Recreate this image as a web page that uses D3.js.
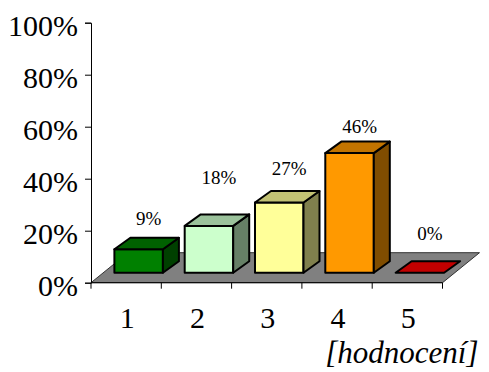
<!DOCTYPE html>
<html>
<head>
<meta charset="utf-8">
<script src="https://cdn.jsdelivr.net/npm/d3@7"></script>
<style>
  html, body { margin: 0; padding: 0; background: #fff; }
  svg { display: block; }
  text { font-family: "Liberation Serif", "Times New Roman", serif; fill: #000; }
</style>
</head>
<body>
<svg id="chart" width="489" height="372"></svg>
<script>
// Rating categories and the share of answers for each
const categories = ["1", "2", "3", "4", "5"];
const shares = [9, 18, 27, 46, 0];
const barColors = ["#008000", "#CCFFCC", "#FFFF99", "#FF9900", "#FF0000"];
const yTicks = [0, 20, 40, 60, 80, 100];
const axisTitle = "[hodnocení]";

const svg = d3.select("#chart");
const W = 489, H = 372;
svg.append("rect").attr("width", W).attr("height", H).attr("fill", "#fff");

// Plot frame (front plane of the 3D box)
const plotLeft = 91, plotRight = 442.5, plotBase = 282.7, plotTop = 22.7;

const x = d3.scaleBand().domain(categories).range([plotLeft, plotRight])
  .paddingInner(0.31).paddingOuter(0.155);
const y = d3.scaleLinear().domain([0, 100]).range([plotBase, plotTop]);

// Oblique depth offsets
const floorDepth = { dx: 37, dy: 30 };
const barFront = { dx: 12.5, dy: 10 };
const barDepth = { dx: 16, dy: 11.5 };

const shade = (c, k) => {
  const r = d3.rgb(c);
  return d3.rgb(r.r * k, r.g * k, r.b * k).formatHex();
};
const poly = pts => "M" + pts.map(p => p.join(",")).join("L") + "Z";

// Floor
svg.append("path")
  .attr("d", poly([[plotLeft, plotBase], [plotRight, plotBase],
    [plotRight + floorDepth.dx, plotBase - floorDepth.dy],
    [plotLeft + floorDepth.dx, plotBase - floorDepth.dy]]))
  .attr("fill", "#808080")
  .attr("stroke", "#333")
  .attr("stroke-width", 1);

// Bars
const bars = svg.append("g").selectAll("g")
  .data(categories.map((c, i) => ({ c, v: shares[i], color: barColors[i], i })))
  .join("g");

bars.each(function (d) {
  const g = d3.select(this);
  const x0 = x(d.c) + barFront.dx;
  const x1 = x0 + x.bandwidth();
  const yb = plotBase - barFront.dy;
  const yt = y(d.v) - barFront.dy;
  const ddx = barDepth.dx, ddy = barDepth.dy;
  const face = (pts, fill) => g.append("path").attr("d", poly(pts)).attr("fill", fill)
    .attr("stroke", "#000").attr("stroke-width", 2).attr("stroke-linejoin", "round");
  if (d.v > 0) {
    face([[x0, yb], [x1, yb], [x1, yt], [x0, yt]], d.color);
    face([[x1, yt], [x1 + ddx, yt - ddy], [x1 + ddx, yb - ddy], [x1, yb]], shade(d.color, 0.5));
  }
  face([[x0, yt], [x1, yt], [x1 + ddx, yt - ddy], [x0 + ddx, yt - ddy]], shade(d.color, 0.76));
});

// Value labels above each bar
const labelLift = [24, 41.5, 27.5, 20.5, 32.5];
svg.append("g").selectAll("text")
  .data(categories.map((c, i) => ({ c, v: shares[i], i })))
  .join("text")
  .attr("x", d => x(d.c) + barFront.dx + x.bandwidth() / 2 + barDepth.dx / 2 + 2)
  .attr("y", d => y(d.v) - barFront.dy - labelLift[d.i])
  .attr("text-anchor", "middle")
  .attr("font-size", 19)
  .text(d => d.v + "%");

// Value axis
const yAxis = d3.axisLeft(y).tickValues(yTicks).tickSize(6).tickPadding(7)
  .tickFormat(d => d + "%");
const ya = svg.append("g").attr("transform", `translate(${plotLeft},0)`).call(yAxis);
ya.attr("font-family", null);
ya.select(".domain").attr("stroke", "#000").attr("stroke-width", 1);
ya.selectAll(".tick line").attr("stroke", "#000");
ya.selectAll(".tick text")
  .attr("font-size", 30).attr("fill", "#000")
  .attr("dy", "0.41em");

// Category axis along the front edge of the floor
const xEdge = d3.scaleLinear().domain([0, categories.length]).range([plotLeft, plotRight]);
svg.append("line").attr("x1", plotLeft).attr("x2", plotRight).attr("y1", plotBase).attr("y2", plotBase)
  .attr("stroke", "#000").attr("stroke-width", 1);
svg.append("g").selectAll("line")
  .data(d3.range(categories.length + 1))
  .join("line")
  .attr("x1", d => xEdge(d)).attr("x2", d => xEdge(d))
  .attr("y1", plotBase).attr("y2", plotBase + 6)
  .attr("stroke", "#000");
svg.append("g").selectAll("text")
  .data(categories)
  .join("text")
  .attr("x", d => x(d) + x.bandwidth() / 2 + 1)
  .attr("y", 328)
  .attr("text-anchor", "middle")
  .attr("font-size", 30)
  .text(d => d);

svg.append("text")
  .attr("x", 478.5)
  .attr("y", 363)
  .attr("text-anchor", "end")
  .attr("font-size", 31)
  .attr("font-style", "italic")
  .text(axisTitle);
</script>
</body>
</html>
